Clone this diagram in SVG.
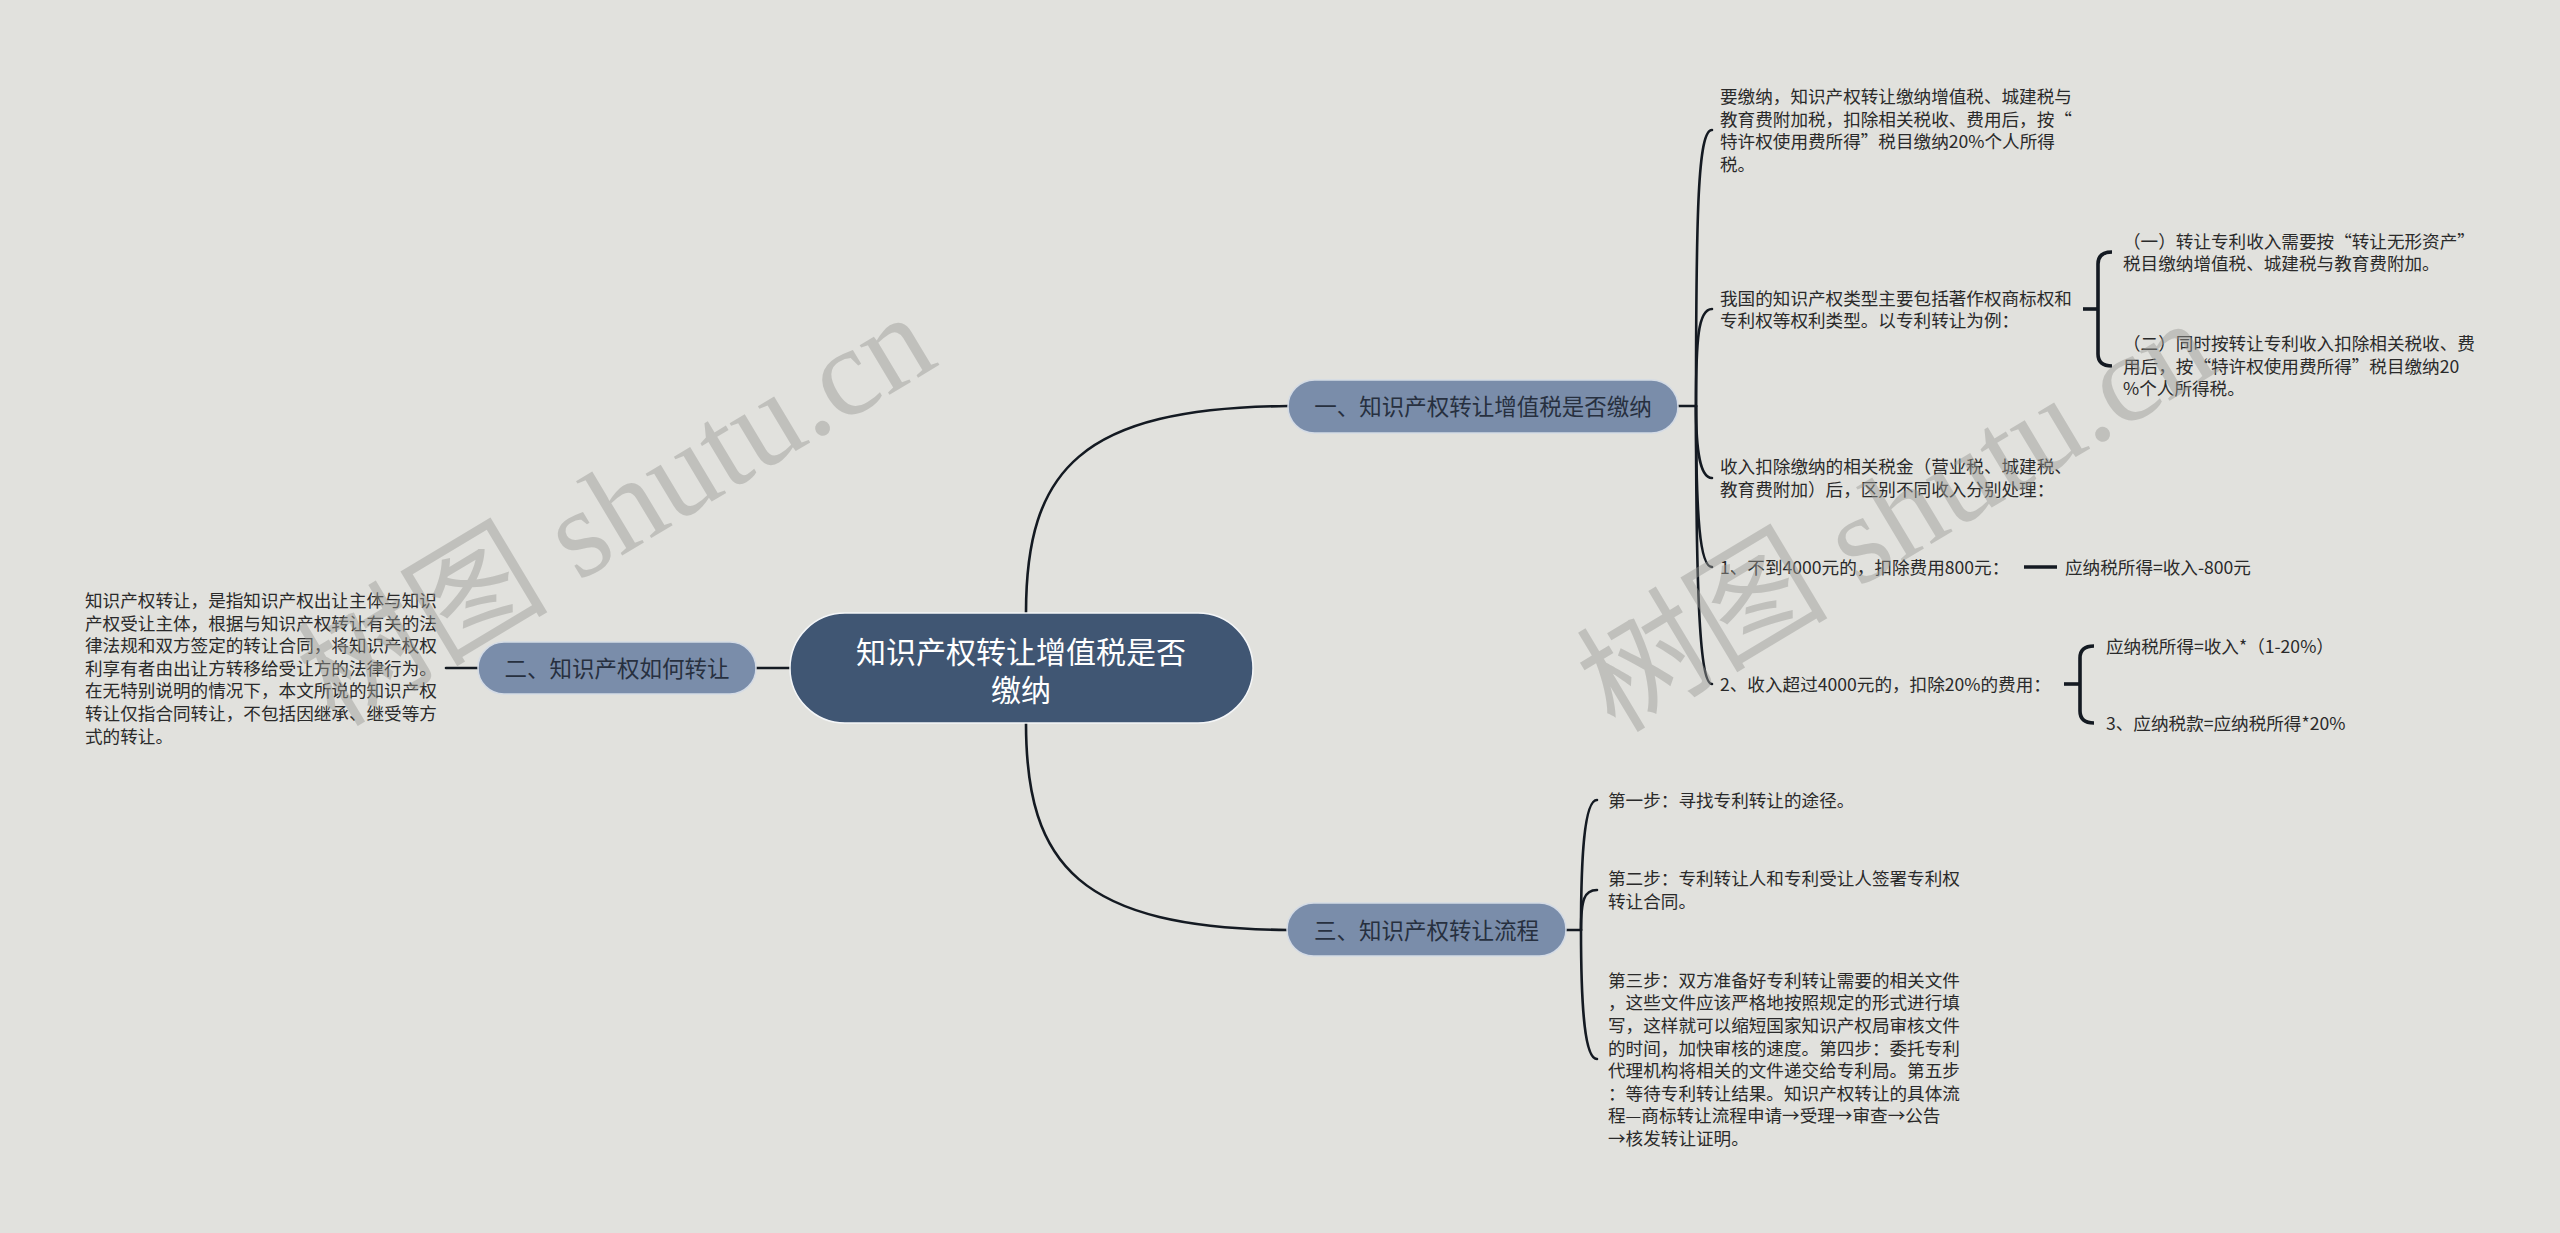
<svg xmlns="http://www.w3.org/2000/svg" width="2560" height="1233" viewBox="0 0 2560 1233">
<style>
.bg{fill:#e1e1dd}
.t{font-family:"Noto Sans CJK SC","Noto Sans",sans-serif;font-size:17.6px;fill:#2a2a2a}
.root{fill:#405673;stroke:#f4f6f8;stroke-width:1.5}
.rt{font-family:"Noto Sans CJK SC","Noto Sans",sans-serif;font-size:30px;fill:#ffffff;text-anchor:middle}
.br{fill:#7a8daa;stroke:#d4dbe5;stroke-width:1.5}
.bt{font-family:"Noto Sans CJK SC","Noto Sans",sans-serif;font-size:22.5px;fill:#27303f;text-anchor:middle}
.c{fill:none;stroke:#141a22;stroke-width:2.6;stroke-linecap:round}
.k{fill:none;stroke:#141a22;stroke-width:3.6;stroke-linecap:butt}
.wm{font-family:"Liberation Serif","Noto Sans CJK SC",serif;font-size:126px;fill:#9a9a96;opacity:0.45}
</style>
<rect class="bg" x="0" y="0" width="2560" height="1233"/>

<g id="connectors">
  <path class="c" d="M1026 613 C1026 470 1080 408 1288 406"/>
  <path class="c" d="M1026 723 C1026 866 1080 928 1288 930"/>
  <path class="c" d="M790 668 H756"/>
  <path class="c" d="M478 668 H446"/>
  <path class="c" d="M1678 406 H1696"/>
  <path class="c" d="M1696 406 C1696 210 1698 130 1712 130"/>
  <path class="c" d="M1696 406 C1696 340 1698 309 1712 309"/>
  <path class="c" d="M1696 406 C1696 440 1698 478 1712 478"/>
  <path class="c" d="M1696 406 C1696 520 1700 567 1712 567"/>
  <path class="c" d="M1696 406 C1696 600 1700 684 1712 684"/>
  <path class="k" d="M2083 309 H2098"/>
  <path class="k" d="M2098 309 V264 Q2098 252 2112 252"/>
  <path class="k" d="M2098 309 V354 Q2098 366 2112 366"/>
  <path class="k" d="M2024 567 H2057"/>
  <path class="k" d="M2064 684 H2080"/>
  <path class="k" d="M2080 684 V658 Q2080 646 2094 646"/>
  <path class="k" d="M2080 684 V711 Q2080 723 2094 723"/>
  <path class="c" d="M1566 930 H1581"/>
  <path class="c" d="M1581 930 C1581 860 1584 800 1597 800"/>
  <path class="c" d="M1581 930 C1581 900 1584 890 1597 890"/>
  <path class="c" d="M1581 930 C1581 1010 1585 1059 1597 1059"/>
</g>

<g id="root">
  <rect class="root" x="790" y="613" width="463" height="110" rx="55"/>
  <text class="rt" x="1021" y="663.4">知识产权转让增值税是否</text>
  <text class="rt" x="1021" y="701.4">缴纳</text>
</g>

<g id="branch1">
  <rect class="br" x="1288" y="380" width="390" height="53" rx="26.5"/>
  <text class="bt" x="1483" y="414.5">一、知识产权转让增值税是否缴纳</text>
</g>
<g id="branch2">
  <rect class="br" x="478" y="642" width="278" height="52" rx="26"/>
  <text class="bt" x="617" y="676.5">二、知识产权如何转让</text>
</g>
<g id="branch3">
  <rect class="br" x="1287" y="903" width="279" height="53" rx="26.5"/>
  <text class="bt" x="1426.5" y="938.5">三、知识产权转让流程</text>
</g>

<g id="b1c1">
  <text class="t" x="1720" y="103.2">要缴纳，知识产权转让缴纳增值税、城建税与</text>
  <text class="t" x="1720" y="125.8">教育费附加税，扣除相关税收、费用后，按“</text>
  <text class="t" x="1720" y="148.4">特许权使用费所得”税目缴纳20%个人所得</text>
  <text class="t" x="1720" y="171">税。</text>
</g>
<g id="b1c2">
  <text class="t" x="1720" y="304.7">我国的知识产权类型主要包括著作权商标权和</text>
  <text class="t" x="1720" y="327.3">专利权等权利类型。以专利转让为例：</text>
</g>
<g id="b1c2s1">
  <text class="t" x="2123" y="247.7">（一）转让专利收入需要按“转让无形资产”</text>
  <text class="t" x="2123" y="270.3">税目缴纳增值税、城建税与教育费附加。</text>
</g>
<g id="b1c2s2">
  <text class="t" x="2123" y="350.2">（二）同时按转让专利收入扣除相关税收、费</text>
  <text class="t" x="2123" y="372.8">用后，按“特许权使用费所得”税目缴纳20</text>
  <text class="t" x="2123" y="395.4">%个人所得税。</text>
</g>
<g id="b1c3">
  <text class="t" x="1720" y="473.2">收入扣除缴纳的相关税金（营业税、城建税、</text>
  <text class="t" x="1720" y="495.8">教育费附加）后，区别不同收入分别处理：</text>
</g>
<g id="b1c4">
  <text class="t" x="1720" y="573.7">1、不到4000元的，扣除费用800元：</text>
</g>
<g id="b1c4s1">
  <text class="t" x="2065" y="573.7">应纳税所得=收入-800元</text>
</g>
<g id="b1c5">
  <text class="t" x="1720" y="690.7">2、收入超过4000元的，扣除20%的费用：</text>
</g>
<g id="b1c5s1">
  <text class="t" x="2106" y="652.7">应纳税所得=收入*（1-20%）</text>
</g>
<g id="b1c5s2">
  <text class="t" x="2106" y="729.7">3、应纳税款=应纳税所得*20%</text>
</g>

<g id="b2c1">
  <text class="t" x="85" y="606.9">知识产权转让，是指知识产权出让主体与知识</text>
  <text class="t" x="85" y="629.5">产权受让主体，根据与知识产权转让有关的法</text>
  <text class="t" x="85" y="652.1">律法规和双方签定的转让合同，将知识产权权</text>
  <text class="t" x="85" y="674.7">利享有者由出让方转移给受让方的法律行为。</text>
  <text class="t" x="85" y="697.3">在无特别说明的情况下，本文所说的知识产权</text>
  <text class="t" x="85" y="719.9">转让仅指合同转让，不包括因继承、继受等方</text>
  <text class="t" x="85" y="742.5">式的转让。</text>
</g>

<g id="b3c1">
  <text class="t" x="1608" y="806.7">第一步：寻找专利转让的途径。</text>
</g>
<g id="b3c2">
  <text class="t" x="1608" y="885.4">第二步：专利转让人和专利受让人签署专利权</text>
  <text class="t" x="1608" y="908">转让合同。</text>
</g>
<g id="b3c3">
  <text class="t" x="1608" y="986.7">第三步：双方准备好专利转让需要的相关文件</text>
  <text class="t" x="1608" y="1009.3">，这些文件应该严格地按照规定的形式进行填</text>
  <text class="t" x="1608" y="1031.9">写，这样就可以缩短国家知识产权局审核文件</text>
  <text class="t" x="1608" y="1054.5">的时间，加快审核的速度。第四步：委托专利</text>
  <text class="t" x="1608" y="1077.1">代理机构将相关的文件递交给专利局。第五步</text>
  <text class="t" x="1608" y="1099.7">：等待专利转让结果。知识产权转让的具体流</text>
  <text class="t" x="1608" y="1122.3">程—商标转让流程申请→受理→审查→公告</text>
  <text class="t" x="1608" y="1144.9">→核发转让证明。</text>
</g>

<g id="watermarks">
  <text class="wm" transform="translate(335 728) rotate(-31)">树图 shutu.cn</text>
  <text class="wm" transform="translate(1615 734) rotate(-31)">树图 shutu.cn</text>
</g>
</svg>
